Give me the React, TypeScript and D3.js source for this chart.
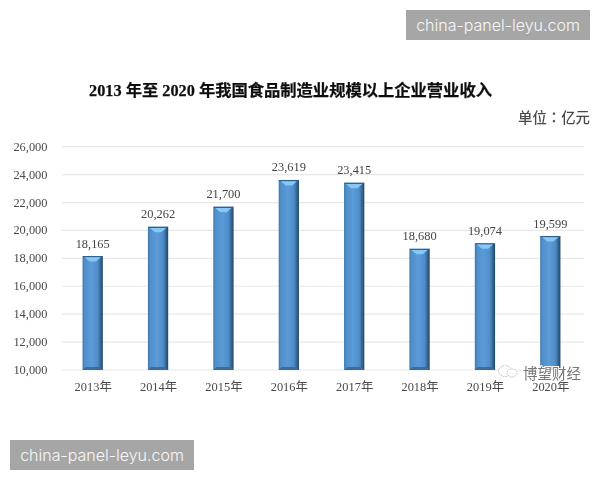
import React from "react";
import * as d3 from "d3";

const categories = ["2013年", "2014年", "2015年", "2016年", "2017年", "2018年", "2019年", "2020年"];
const revenue = [18165, 20262, 21700, 23619, 23415, 18680, 19074, 19599];
const yTicks = [10000, 12000, 14000, 16000, 18000, 20000, 22000, 24000, 26000];
const titleText = "2013 年至 2020 年我国食品制造业规模以上企业营业收入";
const unitText = "单位：亿元";
const stampText = "china-panel-leyu.com";
const wechatText = "博望财经";

const W = 600, H = 480;
const SERIF = "'Liberation Serif', serif";
const CJK = "'Liberation Serif', 'Noto Sans CJK SC', serif";

export default function App() {
  const x = d3.scaleBand<string>().domain(categories).range([60, 583]).paddingInner(0.69).paddingOuter(0.345);
  const y = d3.scaleLinear().domain([10000, 26000]).range([370, 146.7]);
  const fmt = d3.format(",");
  const b = x.bandwidth();
  const grid = d3.line();

  return (
    <svg width={W} height={H} viewBox={`0 0 ${W} ${H}`} style={{ position: "absolute", left: 0, top: 0, background: "#fff" }}>
      <defs>
        <linearGradient id="face" x1="0" x2="1" y1="0" y2="0">
          <stop offset="0" stopColor="#3b76ab" />
          <stop offset="0.1" stopColor="#4f8fca" />
          <stop offset="0.45" stopColor="#5b9bd8" />
          <stop offset="0.75" stopColor="#4f8dc8" />
          <stop offset="0.84" stopColor="#3d74a6" />
          <stop offset="1" stopColor="#1f4668" />
        </linearGradient>
        <filter id="soft" x="-5%" y="-5%" width="110%" height="110%"><feGaussianBlur stdDeviation="0.45" /></filter>
        <filter id="softer" x="-5%" y="-5%" width="110%" height="110%"><feGaussianBlur stdDeviation="0.55" /></filter>
      </defs>

      <g stroke="#e8e8e8" strokeWidth={1.2}>
        {yTicks.map((t) => (
          <path key={t} d={grid([[62, y(t)], [584, y(t)]]) ?? ""} fill="none" />
        ))}
      </g>

      <g filter="url(#soft)">
        {categories.map((c, i) => {
          const l = x(c) ?? 0, r = l + b, top = y(revenue[i]), bot = y(10000);
          const pts = (p: number[][]) => p.map((q) => q.join(",")).join(" ");
          return (
            <g key={c}>
              <rect x={l} y={top} width={b} height={bot - top} fill="url(#face)" />
              <polygon points={pts([[l, top], [r, top], [r - 1, top + 1.2], [l + 1, top + 1.2]])} fill="#2d5f8e" />
              <polygon points={pts([[l + 2, top + 1.2], [r - 2, top + 1.2], [r - 7, top + 5.5], [l + 7, top + 5.5]])} fill="#86c8f4" />
              <polygon points={pts([[l, bot], [r, bot], [r - 3, bot - 3], [l + 3, bot - 3]])} fill="#3a6c9c" />
            </g>
          );
        })}
      </g>

      <g filter="url(#soft)" fontFamily={SERIF} fontSize={12.4} fill="#4a4a4a">
        {yTicks.map((t) => (
          <text key={t} x={47.5} y={y(t) + 4} textAnchor="end">{fmt(t)}</text>
        ))}
        {categories.map((c) => (
          <text key={c} x={(x(c) ?? 0) + b / 2 + 0.5} y={390.5} textAnchor="middle" fontFamily={CJK}>{c}</text>
        ))}
        {categories.map((c, i) => (
          <text key={c} x={(x(c) ?? 0) + b / 2} y={y(revenue[i]) - 8.5} textAnchor="middle" fill="#444">{fmt(revenue[i])}</text>
        ))}
      </g>

      <g filter="url(#soft)">
        <text x={89} y={96} fontFamily={CJK} fontSize={16.3} fontWeight={700} fill="#111" stroke="#111" strokeWidth={0.25}>{titleText}</text>
        <text x={590} y={123} textAnchor="end" fontFamily="'Noto Sans CJK TC', 'Noto Sans CJK SC', sans-serif" fontSize={14.4} fontWeight={500} fill="#4a4a4a">{unitText}</text>
      </g>

      <g filter="url(#softer)">
        <ellipse cx={505} cy={371} rx={6.5} ry={5.5} fill="#fff" stroke="#aaa" strokeWidth={0.8} strokeDasharray="1.5 1" />
        <ellipse cx={512} cy={373} rx={5} ry={4} fill="#fff" stroke="#aaa" strokeWidth={0.8} strokeDasharray="1.5 1" />
        <text x={523} y={379} fontFamily={CJK} fontSize={14.5} fill="#777" stroke="#fff" strokeWidth={2} paintOrder="stroke">{wechatText}</text>
      </g>

      <rect x={406} y={10} width={184} height={30} fill="#a6a6a6" />
      <text x={498} y={30.5} textAnchor="middle" fontFamily="Inter, 'Noto Sans', sans-serif" fontWeight={300} fontSize={16} fill="#f7f7f7">{stampText}</text>
      <rect x={10} y={440} width={184} height={30} fill="#a6a6a6" />
      <text x={102} y={460.5} textAnchor="middle" fontFamily="Inter, 'Noto Sans', sans-serif" fontWeight={300} fontSize={16} fill="#f7f7f7">{stampText}</text>
    </svg>
  );
}
